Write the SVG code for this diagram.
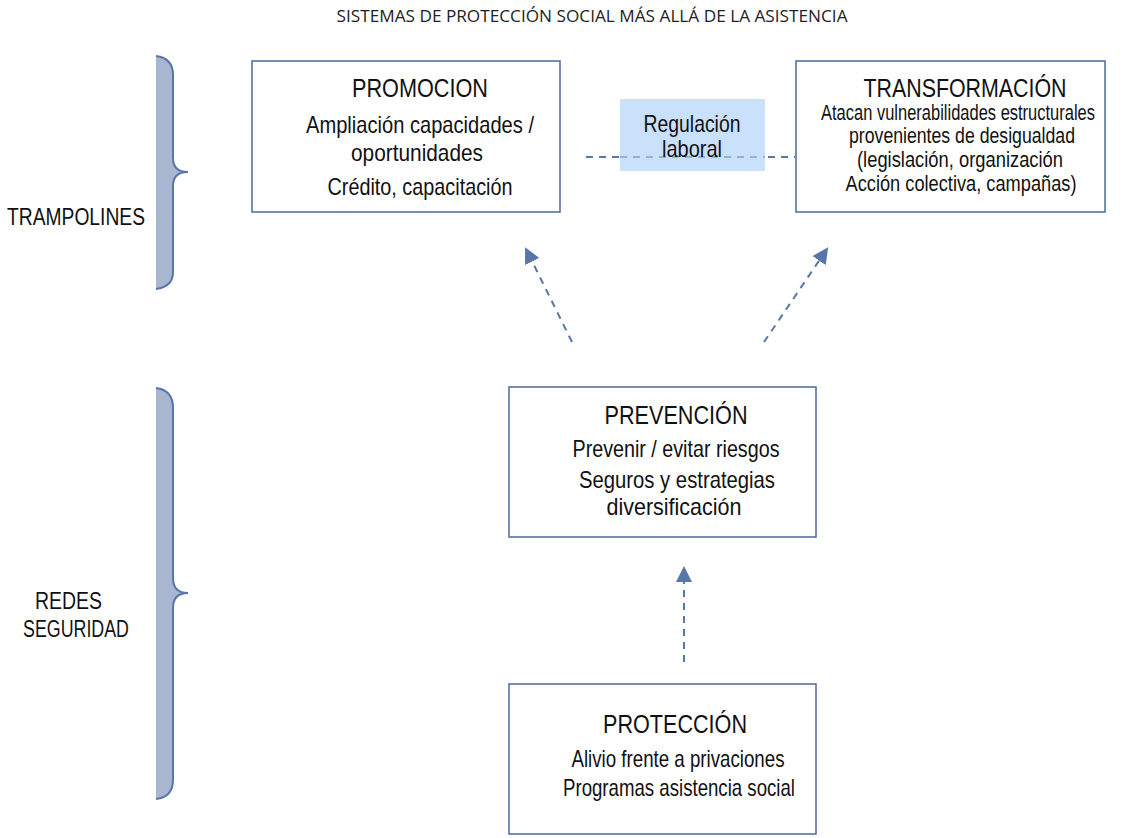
<svg xmlns="http://www.w3.org/2000/svg" width="1135" height="838" viewBox="0 0 1135 838">
<style>
.box{fill:#fff;stroke:#4a6a9c;stroke-width:1.5}
.t{font-family:"Liberation Sans",Arial,sans-serif;fill:#111;text-anchor:middle}
.h{font-size:26px}
.b{font-size:24px}
.s{font-size:21.5px}
.lbl{font-family:"Liberation Sans",Arial,sans-serif;fill:#111;font-size:23px}
.title{font-family:"Open Sans","Noto Sans",sans-serif;font-size:16px;fill:#222;text-anchor:middle}
.conn{stroke:#5876a8;stroke-width:2;stroke-dasharray:7,6;fill:none}
</style>
<defs>
<marker id="ah2" markerWidth="16" markerHeight="16" refX="14" refY="8" orient="auto" markerUnits="userSpaceOnUse" viewBox="0 0 16 16">
<path d="M0,0 L16,8 L0,16 z" fill="#5876a8"/>
</marker>
</defs>
<rect width="1135" height="838" fill="#fff"/>
<text class="title" x="592" y="22" textLength="511" lengthAdjust="spacingAndGlyphs">SISTEMAS DE PROTECCIÓN SOCIAL MÁS ALLÁ DE LA ASISTENCIA</text>

<g id="brace-trampolines">
<path d="M156,56 Q173,58 173,75 L173,158 Q173,172 188,172 Q173,172 173,186 L173,272 Q173,287 156,289 Z" fill="#a9b6cf"/>
<path d="M156,56 Q173,58 173,75 L173,158 Q173,172 188,172 Q173,172 173,186 L173,272 Q173,287 156,289" fill="none" stroke="#5876a8" stroke-width="2"/>
<text class="lbl" x="7" y="225" textLength="138" lengthAdjust="spacingAndGlyphs">TRAMPOLINES</text>
</g>
<g id="brace-redes">
<path d="M156,388 Q173,390 173,408 L173,578 Q173,593 188,593 Q173,593 173,608 L173,780 Q173,797 156,799 Z" fill="#a9b6cf"/>
<path d="M156,388 Q173,390 173,408 L173,578 Q173,593 188,593 Q173,593 173,608 L173,780 Q173,797 156,799" fill="none" stroke="#5876a8" stroke-width="2"/>
<text class="lbl" x="35" y="609" textLength="67" lengthAdjust="spacingAndGlyphs">REDES</text>
<text class="lbl" x="23" y="637" textLength="106" lengthAdjust="spacingAndGlyphs">SEGURIDAD</text>
</g>

<g id="connectors">
<line class="conn" x1="586" y1="157" x2="795" y2="157"/>
<line class="conn" x1="572" y1="342" x2="526" y2="249" marker-end="url(#ah2)"/>
<line class="conn" x1="764" y1="342" x2="827" y2="249" marker-end="url(#ah2)"/>
<line class="conn" x1="684" y1="662" x2="684" y2="568" marker-end="url(#ah2)"/>
</g>

<g id="promocion">
<rect class="box" x="252" y="61" width="308" height="151"/>
<text class="t h" x="420" y="97" textLength="136" lengthAdjust="spacingAndGlyphs">PROMOCION</text>
<text class="t b" x="420" y="133" textLength="228" lengthAdjust="spacingAndGlyphs">Ampliación capacidades /</text>
<text class="t b" x="417" y="161" textLength="132" lengthAdjust="spacingAndGlyphs">oportunidades</text>
<text class="t b" x="420" y="195" textLength="185" lengthAdjust="spacingAndGlyphs">Crédito, capacitación</text>
</g>

<g id="regulacion">
<rect x="620" y="99" width="145" height="72" fill="#c9e1fa"/>
<line x1="620" y1="157" x2="765" y2="157" stroke="#5876a8" stroke-width="2" stroke-dasharray="7,6" opacity="0.45"/>
<text class="t b" x="692" y="132" textLength="97" lengthAdjust="spacingAndGlyphs">Regulación</text>
<text class="t b" x="692" y="157" textLength="60" lengthAdjust="spacingAndGlyphs">laboral</text>
</g>

<g id="transformacion">
<rect class="box" x="796" y="61" width="309" height="151"/>
<text class="t h" x="965" y="97" textLength="203" lengthAdjust="spacingAndGlyphs">TRANSFORMACIÓN</text>
<text class="t s" x="958" y="120" textLength="274" lengthAdjust="spacingAndGlyphs">Atacan vulnerabilidades estructurales</text>
<text class="t s" x="962" y="143" textLength="226" lengthAdjust="spacingAndGlyphs">provenientes de desigualdad</text>
<text class="t s" x="960" y="167" textLength="206" lengthAdjust="spacingAndGlyphs">(legislación, organización</text>
<text class="t s" x="961" y="191" textLength="231" lengthAdjust="spacingAndGlyphs">Acción colectiva, campañas)</text>
</g>

<g id="prevencion">
<rect class="box" x="509" y="387" width="307" height="150"/>
<text class="t h" x="676" y="424" textLength="143" lengthAdjust="spacingAndGlyphs">PREVENCIÓN</text>
<text class="t b" x="676" y="457" textLength="207" lengthAdjust="spacingAndGlyphs">Prevenir / evitar riesgos</text>
<text class="t b" x="677" y="488" textLength="196" lengthAdjust="spacingAndGlyphs">Seguros y estrategias</text>
<text class="t b" x="674" y="515" textLength="135" lengthAdjust="spacingAndGlyphs">diversificación</text>
</g>

<g id="proteccion">
<rect class="box" x="509" y="684" width="307" height="150"/>
<text class="t h" x="675" y="733" textLength="144" lengthAdjust="spacingAndGlyphs">PROTECCIÓN</text>
<text class="t b" x="678" y="767" textLength="213" lengthAdjust="spacingAndGlyphs">Alivio frente a privaciones</text>
<text class="t b" x="679" y="796" textLength="232" lengthAdjust="spacingAndGlyphs">Programas asistencia social</text>
</g>
</svg>
